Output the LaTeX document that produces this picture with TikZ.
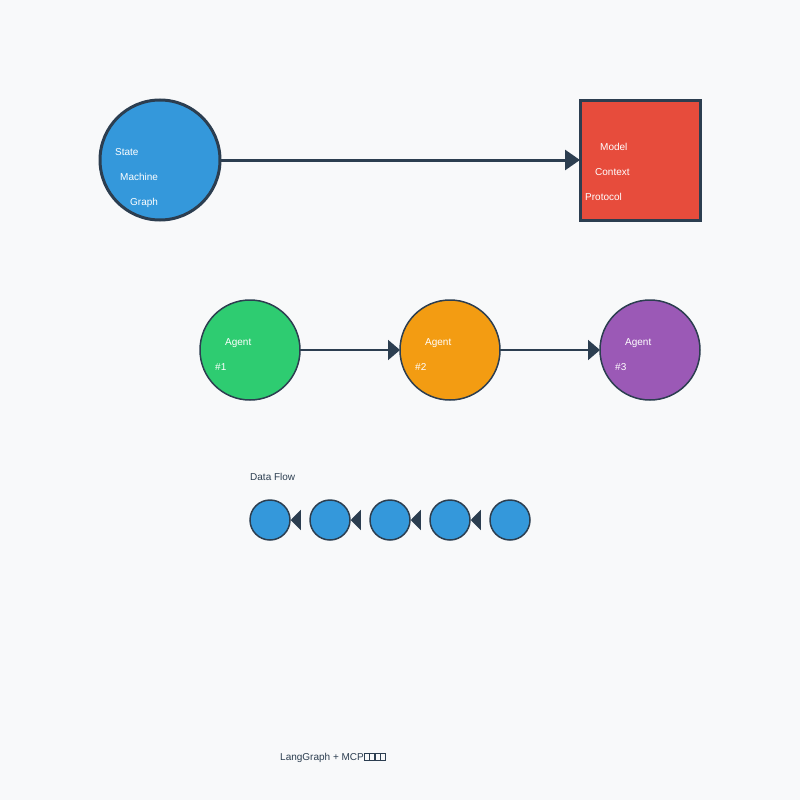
\documentclass[tikz,border=0pt]{standalone}
\usepackage{fontspec}
\setmainfont{Liberation Sans}
\usepackage{tikz}
\usetikzlibrary{arrows.meta}
\definecolor{bgcolor}{RGB}{248, 249, 250}
\definecolor{inkcolor}{RGB}{44, 62, 80}
\definecolor{graphcolor}{RGB}{52, 152, 219}
\definecolor{mcpcolor}{RGB}{231, 76, 60}
\definecolor{agentonecolor}{RGB}{46, 204, 113}
\definecolor{agenttwocolor}{RGB}{243, 156, 18}
\definecolor{agentthreecolor}{RGB}{155, 89, 182}
\newcommand{\tofubox}{{\fboxsep=0pt\fboxrule=0.5pt\fbox{\rule{0pt}{6.5pt}\hspace{4.5pt}}}}

\begin{document}
\begin{tikzpicture}[x=1pt, y=-1pt,
    lbl/.style={anchor=base west, inner sep=0pt, text=white, font=\fontsize{10}{12}\selectfont},
    agent/.style={circle, draw=inkcolor, line width=1.5pt, minimum size=100pt, inner sep=0pt, outer sep=0pt},
    flowdot/.style={circle, draw=inkcolor, line width=1.5pt, fill=graphcolor, minimum size=40pt, inner sep=0pt},
    flowtip/.style={-{Triangle[length=10pt, width=20pt]}, inkcolor, line width=1.5pt, shorten <=10pt}]
        % 背景
        \fill[bgcolor] (0,0) rectangle (800,800);
        % 状态机图 -> 协议
        \node[circle, draw=inkcolor, line width=3pt, fill=graphcolor, minimum size=120pt, inner sep=0pt, outer sep=0pt] (smg) at (160,160) {};
        \node[draw=inkcolor, line width=3pt, fill=mcpcolor, minimum size=120pt, inner sep=0pt, outer sep=0pt] (mcp) at (640,160) {};
        \draw[-{Triangle[length=15pt, width=20pt]}, inkcolor, line width=3pt] (smg) -- (mcp);
        \node[lbl] at (115,155) {State};
        \node[lbl] at (120,180) {Machine};
        \node[lbl] at (130,205) {Graph};
        \node[lbl] at (600,150) {Model};
        \node[lbl] at (595,175) {Context};
        \node[lbl] at (585,200) {Protocol};
        % 三个 Agent
        \node[agent, fill=agentonecolor] (ag1) at (250,350) {};
        \node[agent, fill=agenttwocolor] (ag2) at (450,350) {};
        \node[agent, fill=agentthreecolor] (ag3) at (650,350) {};
        \draw[-{Triangle[length=12pt, width=20pt]}, inkcolor, line width=2pt] (ag1) -- (ag2);
        \draw[-{Triangle[length=12pt, width=20pt]}, inkcolor, line width=2pt] (ag2) -- (ag3);
        \foreach \i/\x in {1/250, 2/450, 3/650} {
            \node[lbl] at (\x-25,345) {Agent};
            \node[lbl] at (\x-35,370) {\#\i};
        }
        % 数据流
        \node[anchor=base west, inner sep=0pt, text=inkcolor, font=\fontsize{10}{12}\selectfont] (dflabel) at (250,480) {Data Flow};
        \foreach \i in {1,...,5}
            \node[flowdot] (f\i) at (210+60*\i,520) {};
        \foreach \i [evaluate=\i as \j using int(\i+1)] in {1,...,4}
            \draw[flowtip] (f\j) -- (f\i);
        \node[anchor=base west, inner sep=0pt, text=inkcolor, font=\fontsize{10}{12}\selectfont] (title) at (280,760) {LangGraph + MCP\tofubox\tofubox\tofubox\tofubox};
    \end{tikzpicture}
\end{document}
